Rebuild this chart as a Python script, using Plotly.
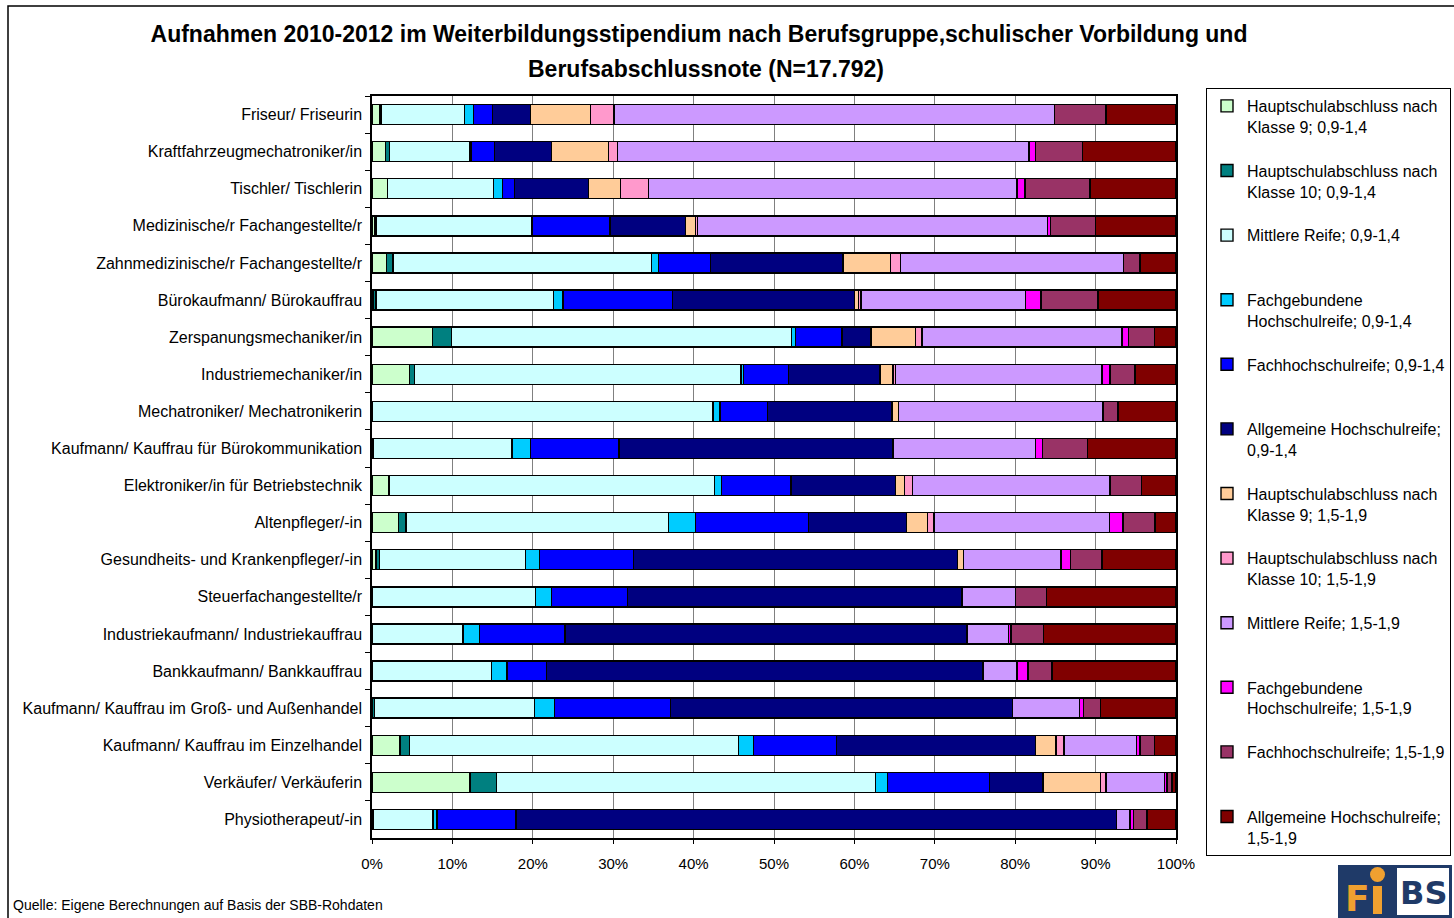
import plotly.graph_objects as go

# ---------------- data ----------------
categories = [
    "Friseur/ Friseurin",
    "Kraftfahrzeugmechatroniker/in",
    "Tischler/ Tischlerin",
    "Medizinische/r Fachangestellte/r",
    "Zahnmedizinische/r Fachangestellte/r",
    "Bürokaufmann/ Bürokauffrau",
    "Zerspanungsmechaniker/in",
    "Industriemechaniker/in",
    "Mechatroniker/ Mechatronikerin",
    "Kaufmann/ Kauffrau für Bürokommunikation",
    "Elektroniker/in für Betriebstechnik",
    "Altenpfleger/-in",
    "Gesundheits- und Krankenpfleger/-in",
    "Steuerfachangestellte/r",
    "Industriekaufmann/ Industriekauffrau",
    "Bankkaufmann/ Bankkauffrau",
    "Kaufmann/ Kauffrau im Groß- und Außenhandel",
    "Kaufmann/ Kauffrau im Einzelhandel",
    "Verkäufer/ Verkäuferin",
    "Physiotherapeut/-in",
]

hs9_a = [1.0, 1.7, 1.9, 0.3, 1.8, 0.2, 7.55, 4.7, 0, 0.1, 2.1, 3.3, 0.5, 0, 0, 0, 0, 3.5, 12.2, 0]
hs10_a = [0.1, 0.5, 0, 0.2, 0.8, 0.3, 2.3, 0.6, 0, 0.1, 0, 0.95, 0.4, 0, 0, 0, 0.3, 1.15, 3.3, 0.2]
mr_a = [10.4, 10.0, 13.2, 19.4, 32.2, 22.1, 42.3, 40.6, 42.4, 17.2, 40.5, 32.6, 18.2, 20.3, 11.3, 14.85, 19.9, 40.9, 47.15, 7.4]
fghr_a = [1.1, 0.1, 1.1, 0, 0.85, 1.15, 0.5, 0.3, 0.9, 2.3, 0.85, 3.4, 1.75, 2.0, 2.05, 1.95, 2.5, 1.85, 1.45, 0.5]
fhr_a = [2.4, 2.9, 1.5, 9.7, 6.45, 13.65, 5.8, 5.6, 5.9, 11.0, 8.65, 14.0, 11.65, 9.5, 10.65, 4.9, 14.4, 10.35, 12.7, 9.8]
ahr_a = [4.7, 7.1, 9.2, 9.4, 16.5, 22.6, 3.6, 11.4, 15.5, 34.1, 13.0, 12.2, 40.3, 41.6, 50.0, 54.3, 42.6, 24.7, 6.65, 74.7]
hs9_b = [7.5, 7.1, 4.0, 1.2, 5.9, 0.5, 5.5, 1.6, 0.8, 0, 1.15, 2.6, 0.8, 0, 0, 0, 0, 2.6, 7.15, 0]
hs10_b = [2.9, 1.1, 3.5, 0.3, 1.2, 0.3, 0.8, 0.3, 0, 0, 0.95, 0.8, 0, 0, 0, 0, 0, 1.0, 0.7, 0]
mr_b = [54.8, 51.2, 45.8, 43.5, 27.8, 20.45, 24.9, 25.7, 25.4, 17.7, 24.6, 21.8, 12.1, 6.6, 5.2, 4.2, 8.3, 9.0, 7.3, 1.7]
fghr_b = [0, 0.8, 1.0, 0.4, 0, 1.95, 0.8, 1.0, 0, 0.9, 0, 1.7, 1.2, 0, 0.3, 1.4, 0.5, 0.4, 0.3, 0.4]
fhr_b = [6.4, 5.9, 8.1, 5.6, 2.0, 7.1, 3.2, 3.1, 1.9, 5.6, 3.9, 4.0, 3.9, 3.9, 4.0, 3.0, 2.1, 1.8, 0.6, 1.7]
ahr_b = [8.7, 11.6, 10.7, 10.0, 4.5, 9.7, 2.7, 5.1, 7.2, 11.0, 4.3, 2.6, 9.2, 16.1, 16.5, 15.4, 9.4, 2.7, 0.5, 3.6]

series_names = [
    "Hauptschulabschluss nach<br>Klasse 9; 0,9-1,4",
    "Hauptschulabschluss nach<br>Klasse 10; 0,9-1,4",
    "Mittlere Reife; 0,9-1,4<br> ",
    "Fachgebundene<br>Hochschulreife; 0,9-1,4",
    "Fachhochschulreife; 0,9-1,4<br> ",
    "Allgemeine Hochschulreife;<br>0,9-1,4",
    "Hauptschulabschluss nach<br>Klasse 9; 1,5-1,9",
    "Hauptschulabschluss nach<br>Klasse 10; 1,5-1,9",
    "Mittlere Reife; 1,5-1,9<br> ",
    "Fachgebundene<br>Hochschulreife; 1,5-1,9",
    "Fachhochschulreife; 1,5-1,9<br> ",
    "Allgemeine Hochschulreife;<br>1,5-1,9",
]
series_values = [hs9_a, hs10_a, mr_a, fghr_a, fhr_a, ahr_a,
                 hs9_b, hs10_b, mr_b, fghr_b, fhr_b, ahr_b]
colors = ["#CCFFCC", "#008080", "#CCFFFF", "#00CCFF", "#0000FF", "#000080",
          "#FFCC99", "#FF99CC", "#CC99FF", "#FF00FF", "#993366", "#800000"]

title_line1 = "Aufnahmen 2010-2012 im Weiterbildungsstipendium nach Berufsgruppe,schulischer Vorbildung und"
title_line2 = "Berufsabschlussnote (N=17.792)"
source_text = "Quelle: Eigene Berechnungen auf Basis der SBB-Rohdaten"

# ---------------- layout helpers ----------------
W, H = 1454, 918
L, R, T, B = 372, 1176, 96, 838
FONT = "Liberation Sans, Arial, sans-serif"


def px(x):
    return (x - L) / (R - L)


def py(y):
    return (B - y) / (B - T)


fig = go.Figure()
for i, (name, vals, col) in enumerate(zip(series_names, series_values, colors)):
    fig.add_trace(go.Bar(
        y=categories, x=vals, name=name, orientation="h",
        legendgroup=f"g{i}",
        marker=dict(color=col, line=dict(color="black", width=1.4)),
    ))

fig.update_layout(
    width=W, height=H, autosize=False,
    margin=dict(l=L, r=W - R, t=T, b=H - B, pad=0, autoexpand=False),
    paper_bgcolor="white", plot_bgcolor="white",
    barmode="stack", barnorm="percent", bargap=0.46,
    font=dict(family=FONT, size=16, color="black"),
    title=dict(text=title_line1, x=699 / W, xref="container", y=1 - 34 / H,
               yref="container", xanchor="center", yanchor="middle",
               font=dict(size=23, family=FONT, color="black", weight="bold")),
    legend=dict(x=(1206 - L) / (R - L), y=1 - 88 / H, yref="container",
                xanchor="left", yanchor="top", maxheight=900,
                bordercolor="black", borderwidth=1, bgcolor="white",
                font=dict(size=16, family=FONT, color="black"),
                valign="top", traceorder="grouped", tracegroupgap=20),
    showlegend=True,
)

fig.update_xaxes(
    range=[0, 100], dtick=10, ticksuffix="%", showgrid=True,
    gridcolor="#808080", gridwidth=1, showline=True, linecolor="black",
    linewidth=1.5, mirror=True, ticks="outside", ticklen=4, tickcolor="black",
    tickfont=dict(size=15, family=FONT, color="black"), ticklabelstandoff=7,
    zeroline=False, fixedrange=True,
)
fig.update_yaxes(
    type="category", autorange="reversed", showgrid=False, showline=True,
    linecolor="black", linewidth=1.5, mirror=True, ticks="outside",
    tickson="boundaries", ticklen=5, tickcolor="black", ticklabelstandoff=5,
    tickfont=dict(size=16, family=FONT, color="black"), fixedrange=True,
)

# title line 2 and source
fig.add_annotation(text=title_line2, x=px(706), y=py(69), xref="paper", yref="paper",
                   showarrow=False, xanchor="center", yanchor="middle",
                   font=dict(size=23, family=FONT, color="black", weight="bold"))
fig.add_annotation(text=source_text, x=px(11), y=py(905), xref="paper", yref="paper",
                   showarrow=False, xanchor="left", yanchor="middle",
                   font=dict(size=14, family=FONT, color="black"))

# outer frame
fig.add_shape(type="rect", xref="paper", yref="paper",
              x0=px(8), x1=px(1470), y0=py(930), y1=py(6),
              line=dict(color="black", width=1.5), fillcolor="rgba(0,0,0,0)",
              layer="above")

# FiBS logo
NAVY = "#1F3A68"
ORANGE = "#F0A030"
fig.add_shape(type="rect", xref="paper", yref="paper",
              x0=px(1338), x1=px(1452), y0=py(918), y1=py(865),
              line=dict(width=0), fillcolor=NAVY, layer="above")
fig.add_shape(type="rect", xref="paper", yref="paper",
              x0=px(1397), x1=px(1449), y0=py(915), y1=py(868),
              line=dict(width=0), fillcolor="white", layer="above")
fig.add_shape(type="rect", xref="paper", yref="paper",
              x0=px(1373), x1=px(1382), y0=py(914), y1=py(886),
              line=dict(width=0), fillcolor=ORANGE, layer="above")
fig.add_shape(type="circle", xref="paper", yref="paper",
              x0=px(1370), x1=px(1385), y0=py(882), y1=py(867),
              line=dict(width=0), fillcolor=ORANGE, layer="above")
fig.add_annotation(text="F", x=px(1357), y=py(898), xref="paper", yref="paper",
                   showarrow=False, xanchor="center", yanchor="middle",
                   font=dict(size=36, family="DejaVu Sans", color=ORANGE, weight="bold"))
fig.add_annotation(text="BS", x=px(1423), y=py(893), xref="paper", yref="paper",
                   showarrow=False, xanchor="center", yanchor="middle",
                   font=dict(size=32, family="DejaVu Sans", color=NAVY, weight="bold"))

fig.write_html(
    "out.html",
    config={"displayModeBar": False},
    post_script="document.body.style.margin='0';document.body.style.overflow='hidden';",
)
